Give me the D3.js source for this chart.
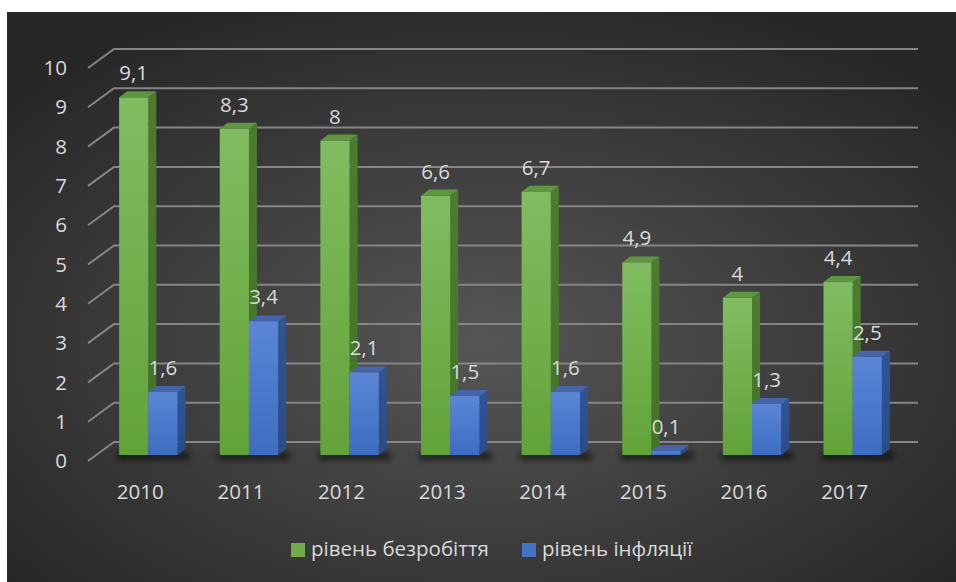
<!DOCTYPE html>
<html><head><meta charset="utf-8">
<script src="https://cdn.jsdelivr.net/npm/d3@7"></script>
<style>html,body{margin:0;padding:0;background:#fff;}svg{display:block;}</style>
</head><body>
<svg id="c" width="956" height="582"></svg>
<script>
const years = ["2010","2011","2012","2013","2014","2015","2016","2017"];
const seriesNames = ["рівень безробіття","рівень інфляції"];
const unemployment = [9.1, 8.3, 8, 6.6, 6.7, 4.9, 4, 4.4];
const inflation = [1.6, 3.4, 2.1, 1.5, 1.6, 0.1, 1.3, 2.5];
const yTicks = [0,1,2,3,4,5,6,7,8,9,10];

const svg = d3.select("#c");
const defs = svg.append("defs");
const FONT = "'Open Sans', 'Noto Sans', sans-serif";
const TXT = "#d9d9d9";
const FS = 20.5;

// background
const bg = defs.append("radialGradient").attr("id","bg").attr("cx","50%").attr("cy","58%").attr("r","65%");
bg.append("stop").attr("offset","0%").attr("stop-color","#565656");
bg.append("stop").attr("offset","100%").attr("stop-color","#272727");
svg.append("rect").attr("x",7).attr("y",12).attr("width",949).attr("height",570).attr("fill","url(#bg)");

function lin(id, c1, c2){
  const g = defs.append("linearGradient").attr("id",id).attr("x1",0).attr("y1",0).attr("x2",0).attr("y2",1);
  g.append("stop").attr("offset","0%").attr("stop-color",c1);
  g.append("stop").attr("offset","100%").attr("stop-color",c2);
}
lin("gF","#82bc62","#62a338");
lin("gS","#4c7c2d","#447526");
lin("bF","#5b86d6","#3d6cc2");
lin("bS","#2f5594","#2a4c88");
const styles = [
  {front:"url(#gF)", side:"url(#gS)", top:"#5e9641", legend:"#70ad47"},
  {front:"url(#bF)", side:"url(#bS)", top:"#4565a8", legend:"#4472c4"}
];
const blur = defs.append("filter").attr("id","blur").attr("x","-20%").attr("y","-100%").attr("width","140%").attr("height","300%");
blur.append("feGaussianBlur").attr("stdDeviation",3);

// scales
const x0 = d3.scaleBand().domain(years).range([98, 903]).paddingInner(0.42).paddingOuter(0.21);
const x1 = d3.scaleBand().domain(seriesNames).range([0, x0.bandwidth()]);
const y = d3.scaleLinear().domain([0,10]).range([455, 62]);
const DX = 8, DY = 6;         // bar depth
const backOff = -13, frontOff = 6; // wall offsets from bar base plane
const wallBackX = 114, wallFrontX = 88, wallRight = 918;

// gridlines
const grid = svg.append("g").attr("stroke","#858585").attr("stroke-width",2).attr("fill","none");
yTicks.forEach(v=>{
  const yb = y(v)+backOff, yf = y(v)+frontOff;
  grid.append("path").attr("d",`M${wallFrontX},${yf}L${wallBackX},${yb}L${wallRight},${yb}`);
});

// y axis labels
svg.append("g").selectAll("text").data(yTicks).join("text")
  .attr("x",67).attr("y",v=>y(v)+frontOff).attr("dy","0.35em")
  .attr("text-anchor","end").attr("fill",TXT).attr("font-family",FONT).attr("font-size",FS)
  .text(v=>v);

// shadows
svg.append("g").selectAll("rect").data(years).join("rect")
  .attr("x",d=>x0(d)-2).attr("y",y(0)-3).attr("width",x0.bandwidth()+DX+6).attr("height",8)
  .attr("fill","#000").attr("opacity",0.55).attr("filter","url(#blur)");

// bars
const data = years.map((yr,i)=>({yr, vals:[unemployment[i], inflation[i]]}));
const g = svg.append("g");
data.forEach(d=>{
  d.vals.forEach((v,si)=>{
    const st = styles[si];
    const xl = x0(d.yr)+x1(seriesNames[si]), w = x1.bandwidth();
    const yt = y(v), yb = y(0);
    const bar = g.append("g");
    bar.append("path").attr("d",`M${xl+w},${yt}L${xl+w+DX},${yt-DY}L${xl+w+DX},${yb-DY}L${xl+w},${yb}Z`).attr("fill",st.side);
    bar.append("path").attr("d",`M${xl},${yt}L${xl+DX},${yt-DY}L${xl+w+DX},${yt-DY}L${xl+w},${yt}Z`).attr("fill",st.top);
    bar.append("rect").attr("x",xl).attr("y",yt).attr("width",w).attr("height",Math.max(0,yb-yt)).attr("fill",st.front);
  });
});
// data labels
data.forEach(d=>{
  d.vals.forEach((v,si)=>{
    const xl = x0(d.yr)+x1(seriesNames[si]), w = x1.bandwidth();
    svg.append("text").attr("x",xl+w/2).attr("y",y(v)-17)
      .attr("text-anchor","middle").attr("fill",TXT).attr("font-family",FONT).attr("font-size",FS)
      .text(String(v).replace(".",","));
  });
});

// x axis labels
svg.append("g").selectAll("text").data(years).join("text")
  .attr("x",d=>x0(d)+x0.bandwidth()/2-8).attr("y",499)
  .attr("text-anchor","middle").attr("fill",TXT).attr("font-family",FONT).attr("font-size",FS)
  .text(d=>d);

// legend
const legX = [291, 522];
const lg = svg.append("g");
seriesNames.forEach((n,i)=>{
  lg.append("rect").attr("x",legX[i]).attr("y",543).attr("width",14).attr("height",14).attr("fill",styles[i].legend);
  lg.append("text").attr("x",legX[i]+20).attr("y",556).attr("fill",TXT).attr("font-family",FONT).attr("font-size",FS).text(n);
});
</script>
</body></html>
